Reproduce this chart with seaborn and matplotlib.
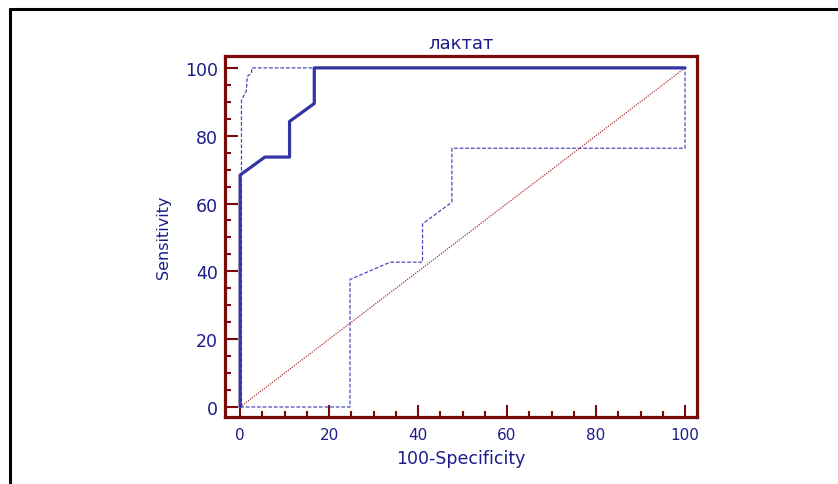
import matplotlib
matplotlib.use("Agg")
import matplotlib.pyplot as plt
import seaborn as sns
import pandas as pd
from matplotlib.ticker import MultipleLocator
from matplotlib.lines import Line2D

# ROC curve (solid)
roc_x = [0, 0, 5.56, 11.11, 11.11, 16.67, 16.67, 100]
roc_y = [0, 68.4, 73.7, 73.7, 84.2, 89.5, 100, 100]
# upper confidence bound (dashed)
upper_x = [0.3, 0.3, 1.4, 1.6, 2.6, 2.6, 100]
upper_y = [0, 90.5, 93.2, 97.5, 98.5, 100, 100]
# lower confidence bound (dashed)
lower_x = [0, 24.7, 24.7, 33.7, 41.0, 41.0, 47.6, 47.6, 100, 100]
lower_y = [0, 0, 37.6, 42.7, 42.7, 54.0, 60.4, 76.3, 76.3, 100]
# reference diagonal
diag_x = [0, 100]
diag_y = [0, 100]

title = "лактат"
xlabel = "100-Specificity"
ylabel = "Sensitivity"
ticks = [0, 20, 40, 60, 80, 100]

sns.set_style("white")
plt.rcParams['font.family'] = ['DejaVu Sans']

text_col = "#1c1c8a"
spine_col = "#7a0a0a"

fig = plt.figure(figsize=(8.38, 4.85), dpi=100)
ax = fig.add_axes([225/838, 1-418/485, (697-225)/838, (418-57)/485])

def df(x, y):
    return pd.DataFrame({"x": x, "y": y})

common = dict(x="x", y="y", sort=False, estimator=None, ax=ax)
sns.lineplot(data=df(diag_x, diag_y), color="#b03030", lw=0.9,
             linestyle=(0, (1, 1)), **common)
sns.lineplot(data=df(lower_x, lower_y), color="#4a4ac0", lw=0.9,
             linestyle=(0, (3, 1.5)), **common)
sns.lineplot(data=df(upper_x, upper_y), color="#4a4ac0", lw=0.9,
             linestyle=(0, (3, 1.5)), **common)
sns.lineplot(data=df(roc_x, roc_y), color="#3434a4", lw=2.3, **common)

ax.set_xlim(-3.4, 102.7)
ax.set_ylim(-2.95, 103.5)
ax.xaxis.set_minor_locator(MultipleLocator(5))
ax.yaxis.set_minor_locator(MultipleLocator(5))
ax.set_xticks(ticks)
ax.set_yticks(ticks)
ax.set_xticklabels([str(t) for t in ticks])
ax.set_yticklabels([str(t) for t in ticks])

for s in ax.spines.values():
    s.set_color(spine_col)
    s.set_linewidth(2.3)

ax.tick_params(which="major", direction="in", length=9, width=1.5, color=spine_col,
               labelcolor=text_col, top=False, right=False, bottom=True, left=True)
ax.tick_params(which="minor", direction="in", length=4.5, width=1.5, color=spine_col,
               top=False, right=False, bottom=True, left=True)
ax.tick_params(axis="x", which="major", pad=7, labelsize=11)
ax.tick_params(axis="y", which="major", pad=5, labelsize=12.5)

ax.set_title(title, color=text_col, fontsize=13, pad=6)
ax.set_xlabel(xlabel, color=text_col, fontsize=12.5, labelpad=5)
ax.set_ylabel(ylabel, color=text_col, fontsize=11.5, labelpad=10)

# outer frame (black, left and top visible)
fig.add_artist(Line2D([10/838, 10/838], [0, 1-10/485], transform=fig.transFigure,
                      color="black", lw=2.2))
fig.add_artist(Line2D([10/838, 1], [1-10/485, 1-10/485], transform=fig.transFigure,
                      color="black", lw=2.2))

fig.savefig("out.png", dpi=100, facecolor="white")
